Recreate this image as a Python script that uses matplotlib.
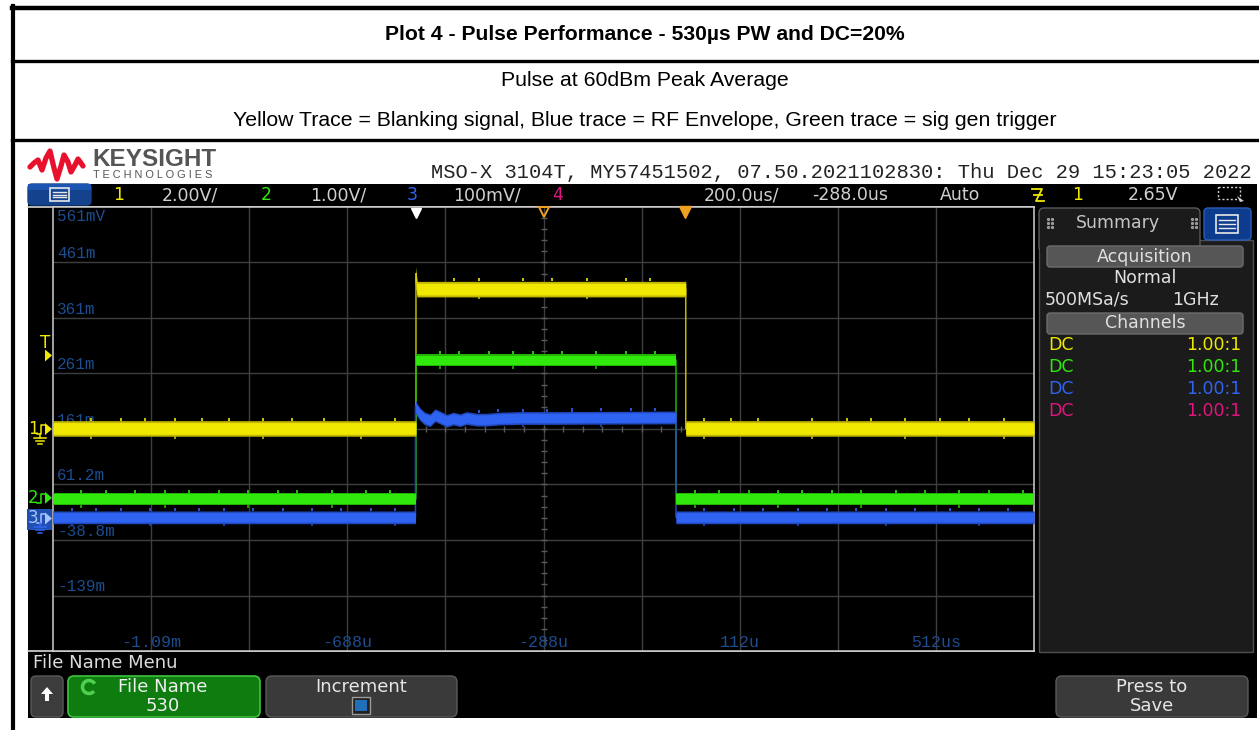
import numpy as np
import matplotlib.pyplot as plt
from matplotlib.patches import FancyBboxPatch, Rectangle, Polygon, Arc

W, H = 1259, 730

# timebase: 200 us/div, delay -288 us, 10 divisions
t_delay = -288.0
t_div = 200.0
# vertical: scale per div and value at screen centre
ch1_scale, ch1_center = 2.0, 0.0      # V
ch2_scale, ch2_center = 1.0, 1.24     # V
ch3_scale, ch3_center = 100.0, 161.2  # mV
trig_level = 2.65                     # V on ch1

# Ch1 yellow - blanking signal (us, V)
yel_t = [-1288, -548, -548, -546, 2, 2, 712]
yel_v = [0.02, 0.02, 5.6, 5.04, 5.04, 0.02, 0.02]

# Ch2 green - sig gen trigger (us, V)
grn_t = [-1288, -548, -548, -18, -18, 712]
grn_v = [-0.02, -0.02, 2.48, 2.48, -0.02, -0.02]

# Ch3 blue - RF envelope (us, mV)
blu_t = [-1288, -549, -549, -546, -540, -530, -519, -509, -499, -485, -472,
         -458, -445, -424, -404, -377, -336, -282, -18, -18, 712]
blu_v = [2, 2, 202, 196, 188, 180, 177, 186, 182, 176, 180,
         177, 181, 178, 178, 180, 181, 181, 182, 2, 2]

# short noise spikes sitting on top of each trace
yel_glitch = [-1210, -1150, -1100, -1040, -985, -930, -860, -800, -735, -660,
              -590, -470, -420, -330, -270, -200, -120, -70, 40, 95, 150,
              260, 330, 380, 450, 520, 580, 650]
grn_glitch = [-1230, -1180, -1120, -1060, -1010, -950, -890, -830, -790, -720,
              -650, -600, -500, -460, -400, -350, -310, -250, -180, -120, -60,
              20, 70, 130, 190, 240, 300, 360, 430, 490, 560, 620, 690]
blu_glitch = [-1250, -1200, -1150, -1090, -1040, -990, -940, -880, -820, -760,
              -700, -640, -590, -420, -380, -330, -280, -230, -170, -110, -60,
              40, 100, 160, 230, 290, 350, 410, 470, 540, 600, 660]

volt_labels = ['561mV', '461m', '361m', '261m', '161m', '61.2m', '-38.8m', '-139m']
time_label_t = [-1088, -688, -288, 112, 512]
time_labels = ['-1.09m', '-688u', '-288u', '112u', '512us']

YEL, YEL_D = '#f0e800', '#c2b800'
GRN, GRN_D = '#30e80c', '#22b400'
BLU, BLU_D = '#2f63f2', '#2149bd'
MAG = '#e0157f'
ORANGE = '#f0a020'
LBL = '#1d4c8f'
UI_FS = 12.5

# graticule geometry on the screen (pixels)
gx0, gx1, gy0, gy1 = 53, 1034, 207, 651
py_div = (gy1 - gy0) / 8.0
gyc = (gy0 + gy1) / 2.0


def div_px(d):
    return gyc - d * py_div


fig = plt.figure(figsize=(W / 100, H / 100), dpi=100)
fig.patch.set_facecolor('white')

ui = fig.add_axes([0, 0, 1, 1], zorder=0)
ui.set_xlim(0, W)
ui.set_ylim(H, 0)
ui.axis('off')


def rbox(x0, y0, x1, y1, fc, ec=None, r=5, lw=1.0, z=2):
    ui.add_patch(FancyBboxPatch((x0, y0), x1 - x0, y1 - y0,
                                boxstyle=f"round,pad=0,rounding_size={r}",
                                fc=fc, ec=ec if ec else fc, lw=lw, zorder=z))


def txt(x, y, s, size=UI_FS, color='#d0d0d0', ha='left', fam='DejaVu Sans', **kw):
    ui.text(x, y, s, fontsize=size, color=color, ha=ha, va='center',
            family=fam, zorder=6, **kw)


def menu_icon(x0, y0, x1, y1):
    ui.add_patch(Rectangle((x0, y0), x1 - x0, y1 - y0, fill=False,
                           ec='#e8e8e8', lw=1.2, zorder=5))
    for f in (0.28, 0.5, 0.72):
        yy = y0 + f * (y1 - y0)
        ui.plot([x0 + 3, x1 - 3], [yy, yy], color='#e8e8e8', lw=1.0, zorder=5)


# ---- report table around the screenshot ----
ui.plot([12, W], [7.5, 7.5], color='black', lw=3.2, zorder=3)
ui.plot([12, W], [61, 61], color='black', lw=2.4, zorder=3)
ui.plot([12, W], [140, 140], color='black', lw=2.4, zorder=3)
ui.plot([13, 13], [6, H], color='black', lw=3.0, zorder=3)
ui.text(645, 35, 'Plot 4 - Pulse Performance - 530µs PW and DC=20%',
        fontsize=15.2, fontweight='bold', family='Liberation Sans',
        ha='center', va='center', color='black')
ui.text(645, 81, 'Pulse at 60dBm Peak Average', fontsize=15.3,
        family='Liberation Sans', ha='center', va='center', color='black')
ui.text(645, 121, 'Yellow Trace = Blanking signal, Blue trace = RF Envelope, '
        'Green trace = sig gen trigger', fontsize=15.3,
        family='Liberation Sans', ha='center', va='center', color='black')

# ---- scope header ----
logo = [(30, 167), (34, 163), (38, 160), (42, 170), (46, 158), (50, 151),
        (54, 168), (57, 179), (61, 166), (64, 155), (68, 162), (71, 172),
        (75, 165), (78, 159), (83, 166)]
ui.plot(*zip(*logo), color='#e8112d', lw=3.8, solid_joinstyle='round',
        solid_capstyle='round', zorder=4)
ui.text(92, 159, 'KEYSIGHT', fontsize=17.5, fontweight='bold', color='#555555',
        family='Liberation Sans', ha='left', va='center')
ui.text(93, 175, 'T E C H N O L O G I E S', fontsize=7.9, color='#555555',
        family='Liberation Sans', ha='left', va='center')
ui.text(1252, 172, 'MSO-X 3104T, MY57451502, 07.50.2021102830: Thu Dec 29 15:23:05 2022',
        fontsize=14.7, family='Liberation Mono', color='#222222',
        ha='right', va='center')

# black screen area
ui.add_patch(Rectangle((28, 184), 1229, 534, fc='black', ec='none', zorder=1))

# status bar
rbox(28, 184, 91, 205, '#14428c', r=4, z=3)
ui.add_patch(Rectangle((28, 184), 63, 6, fc='#1c56b0', ec='none', zorder=3))
menu_icon(50, 188, 69, 201)
txt(119, 195, '1', color=YEL, ha='center')
txt(162, 195, f'{ch1_scale:.2f}V/')
txt(266, 195, '2', color=GRN, ha='center')
txt(310, 195, f'{ch2_scale:.2f}V/')
txt(412, 195, '3', color=BLU, ha='center')
txt(453, 195, f'{ch3_scale:.0f}mV/')
txt(558, 195, '4', color=MAG, ha='center')
txt(704, 195, f'{t_div:.1f}us/')
txt(812, 195, f'{t_delay:.1f}us')
txt(940, 195, 'Auto')
ui.plot([1032, 1042, 1036, 1044], [189, 189, 201, 201], color=YEL, lw=1.3, zorder=5)
ui.plot([1034, 1042], [195, 195], color=YEL, lw=1.3, zorder=5)
txt(1078, 195, '1', color=YEL, ha='center')
txt(1128, 195, f'{trig_level:.2f}V')
ui.add_patch(Rectangle((1218, 187), 22, 12, fill=False, ec='#cfcfcf', lw=1.0,
                       ls=(0, (1.5, 1.5)), zorder=5))
ui.add_patch(Polygon([(1237, 196), (1244, 201), (1240, 202)], fc='#cfcfcf',
                     ec='none', zorder=5))

# white frame lines that reach past the graticule on the left
ui.plot([28, gx1], [gy0, gy0], color='#d8d8d8', lw=1.2, zorder=3)
ui.plot([28, gx1], [gy1, gy1], color='#d8d8d8', lw=1.2, zorder=3)


# ---- channel markers on the left edge ----
def gnd_marker(label, d, col, box=None, ground=False):
    y = div_px(d)
    if box:
        ui.add_patch(Rectangle((27, y - 9), 25, 21, fc=box, ec='none', zorder=4))
    txt(33, y, label, size=12, color=col if not box else '#a8c4ff', ha='center')
    ui.plot([37, 41, 41, 45], [y + 5, y + 5, y - 4, y - 4],
            color=col if not box else '#a8c4ff', lw=1.1, zorder=5)
    ui.add_patch(Polygon([(45, y - 6), (52, y), (45, y + 6)],
                         fc=col if not box else '#a8c4ff', ec='none', zorder=5))
    if ground:
        ui.plot([40, 40], [y + 5, y + 9], color=col, lw=1.1, zorder=5)
        for half, dy in ((6, 9), (4, 12), (2, 15)):
            ui.plot([40 - half, 40 + half], [y + dy, y + dy], color=col, lw=1.1, zorder=5)


y_trig = div_px((trig_level - ch1_center) / ch1_scale)
txt(45, y_trig - 12, 'T', size=12, color=YEL, ha='center')
ui.add_patch(Polygon([(45, y_trig - 6), (52, y_trig), (45, y_trig + 6)],
                     fc=YEL, ec='none', zorder=5))
gnd_marker('1', (0 - ch1_center) / ch1_scale, YEL, ground=True)
gnd_marker('2', (0 - ch2_center) / ch2_scale, GRN)
gnd_marker('3', (0 - ch3_center) / ch3_scale, BLU, box='#1f4fb0', ground=True)

# ---- summary panel ----
ui.add_patch(Rectangle((1039, 240), 214, 412, fc='#1b1b1b', ec='#4f4f4f', lw=1.0, zorder=2))
rbox(1039, 208, 1200, 252, '#1b1b1b', ec='#5a5a5a', r=5, z=3)
ui.add_patch(Rectangle((1040, 236), 159, 18, fc='#1b1b1b', ec='none', zorder=3))
for gx in (1048, 1192):
    for dx in (0, 4):
        for dy in (219, 223, 227):
            ui.plot(gx + dx, dy, 's', ms=1.2, color='#9a9a9a', zorder=5)
txt(1118, 223, 'Summary', color='#c4c4c4', ha='center')
rbox(1204, 208, 1251, 240, '#0d3c8e', ec='#2a5fb5', r=4, z=3)
menu_icon(1216, 215, 1238, 233)
rbox(1047, 246, 1243, 267, '#565656', ec='#6c6c6c', r=3, z=3)
txt(1145, 256.5, 'Acquisition', color='#e0e0e0', ha='center')
txt(1145, 278, 'Normal', color='#e0e0e0', ha='center')
txt(1045, 300, '500MSa/s', color='#e0e0e0')
txt(1196, 300, '1GHz', color='#e0e0e0', ha='center')
rbox(1047, 313, 1243, 334, '#565656', ec='#6c6c6c', r=3, z=3)
txt(1145, 323.5, 'Channels', color='#e0e0e0', ha='center')
for row, col in enumerate([YEL, GRN, BLU, MAG]):
    yy = 345 + 22 * row
    txt(1048, yy, 'DC', color=col)
    txt(1241, yy, '1.00:1', color=col, ha='right')

# ---- softkey menu ----
txt(33, 663, 'File Name Menu', size=13, color='#dcdcdc')
rbox(31, 676, 63, 717, '#3c3c3c', ec='#5a5a5a', r=5, z=3)
ui.add_patch(Polygon([(47, 687), (41, 694), (45, 694), (45, 701), (49, 701),
                      (49, 694), (53, 694)], fc='white', ec='none', zorder=5))
rbox(68, 676, 260, 717, '#0e7c0e', ec='#3fc23f', r=6, lw=1.2, z=3)
ui.add_patch(Arc((89, 687), 13, 13, theta1=40, theta2=330, color='#4fd04f', lw=2.5, zorder=5))
txt(163, 687, 'File Name', size=13, color='#f0f0f0', ha='center')
txt(163, 706, '530', size=13, color='#f0f0f0', ha='center')
rbox(266, 676, 457, 717, '#3a3a3a', ec='#5a5a5a', r=6, z=3)
txt(361, 687, 'Increment', size=13, color='#e6e6e6', ha='center')
ui.add_patch(Rectangle((352, 697), 18, 17, fc='#222222', ec='#9a9a9a', lw=1.0, zorder=4))
ui.add_patch(Rectangle((355, 700), 12, 11, fc='#1f6fba', ec='none', zorder=5))
rbox(1056, 676, 1248, 717, '#3a3a3a', ec='#5a5a5a', r=6, z=3)
txt(1152, 687, 'Press to', size=13, color='#e6e6e6', ha='center')
txt(1152, 706, 'Save', size=13, color='#e6e6e6', ha='center')

# ---- graticule with traces ----
ax = fig.add_axes([gx0 / W, (H - gy1) / H, (gx1 - gx0) / W, (gy1 - gy0) / H], zorder=1)
ax.set_facecolor('black')
t_left, t_right = t_delay - 5 * t_div, t_delay + 5 * t_div
ax.set_xlim(t_left, t_right)
ax.set_ylim(-4, 4)
ax.set_xticks(t_delay + t_div * np.arange(-4, 5))
ax.set_yticks(np.arange(-3, 4))
ax.tick_params(length=0, labelbottom=False, labelleft=False)
ax.grid(True, color='#3e3e3e', lw=1.0)
for s in ax.spines.values():
    s.set_color('#d0d0d0')
    s.set_linewidth(1.1)

# minor ticks on the centre axes
ax.plot(np.full(39, t_delay), np.arange(-3.8, 3.9, 0.2), '_', ms=4.5,
        color='#5a5a5a', mew=1.0)
ax.plot(np.arange(t_left + 40, t_right, 40), np.zeros(49), '|', ms=4.5,
        color='#5a5a5a', mew=1.0)

for k, lab in enumerate(volt_labels):
    y = 4 - k
    if k == 0:
        ax.text(t_left + 8, y - 0.03, lab, color=LBL, fontsize=11.5,
                family='Liberation Mono', va='top', ha='left')
    else:
        ax.text(t_left + 8, y + 0.02, lab, color=LBL, fontsize=11.5,
                family='Liberation Mono', va='bottom', ha='left')
for tt, lab in zip(time_label_t, time_labels):
    ax.text(tt, -3.98, lab, color=LBL, fontsize=12, family='Liberation Mono',
            va='bottom', ha='center')


def draw_trace(t, v, center, scale, hw, core, dark, glitch):
    y = (np.asarray(v, float) - center) / scale
    # thin edges first, then the noisy band over them
    ax.plot(t, y, color=dark, lw=1.1, zorder=2.5)
    ax.fill_between(t, y - hw, y + hw, color=dark, lw=0, zorder=3)
    ax.fill_between(t, y - 0.75 * hw, y + 0.75 * hw, color=core, lw=0, zorder=3)
    gy = np.interp(glitch, t, y)
    ax.vlines(glitch, gy + hw, gy + hw + 0.055, color=core, lw=1.2, zorder=3)
    ax.vlines(glitch[::3], gy[::3] - hw - 0.045, gy[::3] - hw, color=dark, lw=1.2, zorder=3)


draw_trace(yel_t, yel_v, ch1_center, ch1_scale, 0.14, YEL, YEL_D, yel_glitch)
draw_trace(grn_t, grn_v, ch2_center, ch2_scale, 0.11, GRN, GRN_D, grn_glitch)
draw_trace(blu_t, blu_v, ch3_center, ch3_scale, 0.115, BLU, BLU_D, blu_glitch)

# markers on the top edge: acquisition start, delay, trigger point
ax.plot(-548, 3.9, 'v', ms=7, color='white', clip_on=False, zorder=6)
ax.plot(t_delay, 3.91, 'v', ms=7, mfc='none', mec=ORANGE, mew=1.4, clip_on=False, zorder=6)
ax.plot(0, 3.91, 'v', ms=8, color=ORANGE, clip_on=False, zorder=6)

fig.savefig('out.png', dpi=100)
